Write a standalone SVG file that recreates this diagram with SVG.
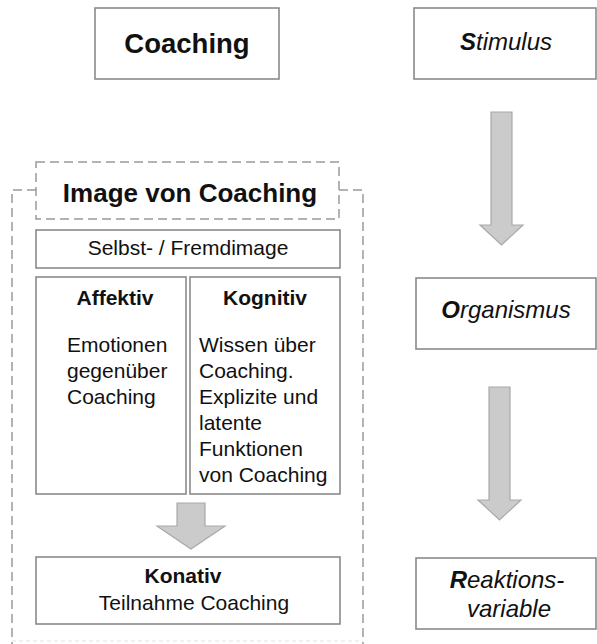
<svg xmlns="http://www.w3.org/2000/svg" width="597" height="644" viewBox="0 0 597 644">
<style>
.box{fill:#fff;stroke:#8a8a8a;stroke-width:1.6}
.dash{fill:none;stroke:#9a9a9a;stroke-width:1.5;stroke-dasharray:9 5}
.arrow{fill:#cbcbcb;stroke:#a9a9a9;stroke-width:1.2}
text{font-family:"Liberation Sans",Arial,sans-serif;fill:#111}
.big{font-size:26px;font-weight:bold}
.it{font-size:24px;font-style:italic}
.b{font-weight:bold}
.body{font-size:21px}
</style>
<rect width="597" height="644" fill="#fff"/>
<g id="outer-frame">
<path class="dash" d="M36,190 H12 V644"/>
<path class="dash" d="M339,190 H363 V644"/>
<path d="M12,641 H363" fill="none" stroke="#e2e2e2" stroke-width="1.2" stroke-dasharray="4 3"/>
</g>
<g id="coaching">
<rect class="box" x="95" y="8" width="184" height="71"/>
<text class="big" x="187" y="53" text-anchor="middle" style="font-size:27.5px">Coaching</text>
</g>
<g id="image-von-coaching">
<rect class="dash" x="36" y="162" width="303" height="57"/>
<text class="big" x="190" y="202" text-anchor="middle">Image von Coaching</text>
</g>
<g id="selbst-fremdimage">
<rect class="box" x="36" y="230" width="304" height="38"/>
<text class="body" x="188" y="255" text-anchor="middle">Selbst- / Fremdimage</text>
</g>
<g id="affektiv">
<rect class="box" x="36" y="277" width="150" height="217"/>
<text class="body b" x="115" y="305" text-anchor="middle">Affektiv</text>
<text class="body" x="67" y="352">Emotionen</text>
<text class="body" x="67" y="378">gegenüber</text>
<text class="body" x="67" y="404">Coaching</text>
</g>
<g id="kognitiv">
<rect class="box" x="190" y="277" width="150" height="217"/>
<text class="body b" x="265" y="305" text-anchor="middle">Kognitiv</text>
<text class="body" x="199" y="352">Wissen über</text>
<text class="body" x="199" y="378">Coaching.</text>
<text class="body" x="199" y="404">Explizite und</text>
<text class="body" x="199" y="430">latente</text>
<text class="body" x="199" y="456">Funktionen</text>
<text class="body" x="199" y="482">von Coaching</text>
</g>
<g id="konativ">
<rect class="box" x="36" y="557" width="304" height="67"/>
<text class="body b" x="183" y="583" text-anchor="middle">Konativ</text>
<text class="body" x="194" y="610" text-anchor="middle">Teilnahme Coaching</text>
</g>
<g id="stimulus">
<rect class="box" x="414" y="8" width="182" height="71"/>
<text class="it" x="506" y="50" text-anchor="middle"><tspan class="b">S</tspan>timulus</text>
</g>
<g id="organismus">
<rect class="box" x="416" y="278" width="180" height="71"/>
<text class="it" x="506" y="318" text-anchor="middle"><tspan class="b">O</tspan>rganismus</text>
</g>
<g id="reaktionsvariable">
<rect class="box" x="416" y="558" width="180" height="71"/>
<text class="it" x="507" y="588" text-anchor="middle"><tspan class="b">R</tspan>eaktions-</text>
<text class="it" x="509" y="617" text-anchor="middle">variable</text>
</g>
<g id="connectors">
<path class="arrow" d="M177,503 H205 V526 H225 L191,549 L157,526 H177 Z"/>
<path class="arrow" d="M491,112 H512 V225 H523 L501.5,245 L480,225 H491 Z"/>
<path class="arrow" d="M489,387 H510 V500 H521 L499.5,520 L478,500 H489 Z"/>
</g>
</svg>
